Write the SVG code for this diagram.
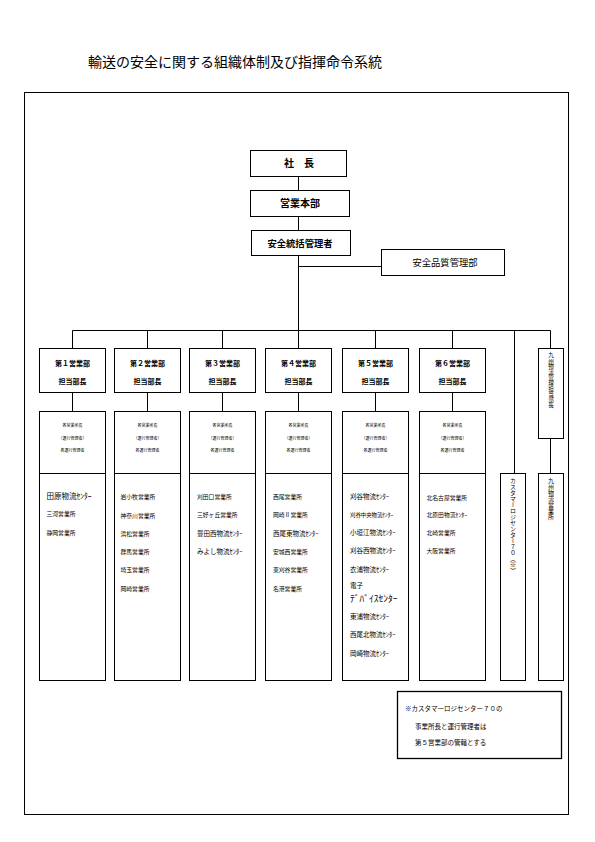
<svg xmlns="http://www.w3.org/2000/svg" width="595" height="842" viewBox="0 0 595 842">
<style>
text{font-family:"Noto Sans CJK JP","Noto Sans CJK SC",sans-serif;fill:#000}
.b{fill:#fff;stroke:#000;stroke-width:1}
.c line{stroke:#000;stroke-width:1}
.t{font-size:10px;font-weight:bold;text-anchor:middle}
.h{font-size:7px;font-weight:bold;text-anchor:middle}
.i{font-size:4px;text-anchor:middle}
.l{font-size:5.8px}
.v{font-size:6px;writing-mode:vertical-rl}
.n{font-size:6.5px}
</style>
<rect width="595" height="842" fill="#fff"/>
<text x="88" y="67" style="font-size:14px">輸送の安全に関する組織体制及び指揮命令系統</text>
<rect x="24.5" y="92.5" width="544" height="722" fill="none" stroke="#000"/>

<g class="c" id="connectors">
<line x1="298.5" y1="176" x2="298.5" y2="190"/>
<line x1="298.5" y1="216" x2="298.5" y2="230"/>
<line x1="298.5" y1="255" x2="298.5" y2="330.5"/>
<line x1="298.5" y1="266.5" x2="381.5" y2="266.5"/>
<line x1="72.5" y1="330.5" x2="550.5" y2="330.5"/>
<line x1="72.5" y1="330.5" x2="72.5" y2="348.5"/>
<line x1="147.5" y1="330.5" x2="147.5" y2="348.5"/>
<line x1="222.5" y1="330.5" x2="222.5" y2="348.5"/>
<line x1="298.5" y1="330.5" x2="298.5" y2="348.5"/>
<line x1="375.5" y1="330.5" x2="375.5" y2="348.5"/>
<line x1="452.5" y1="330.5" x2="452.5" y2="348.5"/>
<line x1="550.5" y1="330.5" x2="550.5" y2="348.5"/>
<line x1="514.5" y1="330.5" x2="514.5" y2="473.5"/>
<line x1="72.5" y1="392.5" x2="72.5" y2="411.5"/>
<line x1="147.5" y1="392.5" x2="147.5" y2="411.5"/>
<line x1="222.5" y1="392.5" x2="222.5" y2="411.5"/>
<line x1="298.5" y1="392.5" x2="298.5" y2="411.5"/>
<line x1="375.5" y1="392.5" x2="375.5" y2="411.5"/>
<line x1="452.5" y1="392.5" x2="452.5" y2="411.5"/>
<line x1="550.5" y1="438.5" x2="550.5" y2="473.5"/>
</g>

<g id="president"><rect class="b" x="250.5" y="150.5" width="96" height="26"/><text class="t" x="299" y="167">社　長</text></g>
<g id="sales-hq"><rect class="b" x="250.5" y="190.5" width="99" height="26"/><text class="t" x="300" y="207">営業本部</text></g>
<g id="safety-manager"><rect class="b" x="251.5" y="230.5" width="99" height="25"/><text class="t" x="300" y="246.5" style="font-size:9.3px">安全統括管理者</text></g>
<g id="quality-dept"><rect class="b" x="381.5" y="249.5" width="123" height="26"/><text class="t" x="445" y="266" style="font-size:9.3px;font-weight:normal">安全品質管理部</text></g>

<g id="dept1">
<rect class="b" x="39.5" y="348.5" width="66" height="44"/>
<text class="h" x="72.5" y="366">第１営業部</text><text class="h" x="72.5" y="384">担当部長</text>
<rect class="b" x="39.5" y="411.5" width="66" height="62"/>
<text class="i" x="72.5" y="427">各営業所長</text><text class="i" x="72.5" y="440">（運行管理者）</text><text class="i" x="72.5" y="452">各運行管理者</text>
<rect class="b" x="39.5" y="473.5" width="66" height="207"/>
<text class="l" x="46.5" y="499" style="font-size:7.5px">田原物流ｾﾝﾀｰ</text>
<text class="l" x="46.5" y="516">三河営業所</text>
<text class="l" x="46.5" y="535">静岡営業所</text>
</g>

<g id="dept2">
<rect class="b" x="114.5" y="348.5" width="66" height="44"/>
<text class="h" x="147.5" y="366">第２営業部</text><text class="h" x="147.5" y="384">担当部長</text>
<rect class="b" x="114.5" y="411.5" width="66" height="62"/>
<text class="i" x="147.5" y="427">各営業所長</text><text class="i" x="147.5" y="440">（運行管理者）</text><text class="i" x="147.5" y="452">各運行管理者</text>
<rect class="b" x="114.5" y="473.5" width="66" height="207"/>
<text class="l" x="120.5" y="499">岩小牧営業所</text>
<text class="l" x="120.5" y="517.5">神奈川営業所</text>
<text class="l" x="120.5" y="535.5">浜松営業所</text>
<text class="l" x="120.5" y="554">群馬営業所</text>
<text class="l" x="120.5" y="572">埼玉営業所</text>
<text class="l" x="120.5" y="590.5">岡崎営業所</text>
</g>

<g id="dept3">
<rect class="b" x="189.5" y="348.5" width="66" height="44"/>
<text class="h" x="222.5" y="366">第３営業部</text><text class="h" x="222.5" y="384">担当部長</text>
<rect class="b" x="189.5" y="411.5" width="66" height="62"/>
<text class="i" x="222.5" y="427">各営業所長</text><text class="i" x="222.5" y="440">（運行管理者）</text><text class="i" x="222.5" y="452">各運行管理者</text>
<rect class="b" x="189.5" y="473.5" width="66" height="207"/>
<text class="l" x="197" y="499">刈田口営業所</text>
<text class="l" x="197" y="517">三好ヶ丘営業所</text>
<text class="l" x="197" y="535.5" style="font-size:6.5px">豊田西物流ｾﾝﾀｰ</text>
<text class="l" x="197" y="553.5" style="font-size:6.5px">みよし物流ｾﾝﾀｰ</text>
</g>

<g id="dept4">
<rect class="b" x="265.5" y="348.5" width="66" height="44"/>
<text class="h" x="298.5" y="366">第４営業部</text><text class="h" x="298.5" y="384">担当部長</text>
<rect class="b" x="265.5" y="411.5" width="66" height="62"/>
<text class="i" x="298.5" y="427">各営業所長</text><text class="i" x="298.5" y="440">（運行管理者）</text><text class="i" x="298.5" y="452">各運行管理者</text>
<rect class="b" x="265.5" y="473.5" width="66" height="207"/>
<text class="l" x="273" y="499">西尾営業所</text>
<text class="l" x="273" y="517">岡崎Ⅱ営業所</text>
<text class="l" x="273" y="535.5" style="font-size:6.5px">西尾東物流ｾﾝﾀｰ</text>
<text class="l" x="273" y="553.5">安城西営業所</text>
<text class="l" x="273" y="572">東刈谷営業所</text>
<text class="l" x="273" y="590.5">名港営業所</text>
</g>

<g id="dept5">
<rect class="b" x="342.5" y="348.5" width="66" height="44"/>
<text class="h" x="375.5" y="366">第５営業部</text><text class="h" x="375.5" y="384">担当部長</text>
<rect class="b" x="342.5" y="411.5" width="66" height="62"/>
<text class="i" x="375.5" y="427">各営業所長</text><text class="i" x="375.5" y="440">（運行管理者）</text><text class="i" x="375.5" y="452">各運行管理者</text>
<rect class="b" x="342.5" y="473.5" width="66" height="207"/>
<text class="l" x="350" y="498.5" style="font-size:6.5px">刈谷物流ｾﾝﾀｰ</text>
<text class="l" x="350" y="516.5" style="font-size:5.4px">刈谷中央物流ｾﾝﾀｰ</text>
<text class="l" x="350" y="535" style="font-size:6.5px">小垣江物流ｾﾝﾀｰ</text>
<text class="l" x="350" y="553" style="font-size:6.5px">刈谷西物流ｾﾝﾀｰ</text>
<text class="l" x="350" y="571.5" style="font-size:6.5px">衣浦物流ｾﾝﾀｰ</text>
<text class="l" x="350" y="588" style="font-size:6.5px">電子</text>
<text class="l" x="350" y="602" style="font-size:9.5px">ﾃﾞﾊﾞｲｽｾﾝﾀｰ</text>
<text class="l" x="350" y="619" style="font-size:6.5px">東浦物流ｾﾝﾀｰ</text>
<text class="l" x="350" y="637" style="font-size:6.5px">西尾北物流ｾﾝﾀｰ</text>
<text class="l" x="350" y="655.5" style="font-size:6.5px">岡崎物流ｾﾝﾀｰ</text>
</g>

<g id="dept6">
<rect class="b" x="419.5" y="348.5" width="66" height="44"/>
<text class="h" x="452.5" y="366">第６営業部</text><text class="h" x="452.5" y="384">担当部長</text>
<rect class="b" x="419.5" y="411.5" width="66" height="62"/>
<text class="i" x="452.5" y="427">各営業所長</text><text class="i" x="452.5" y="440">（運行管理者）</text><text class="i" x="452.5" y="452">各運行管理者</text>
<rect class="b" x="419.5" y="473.5" width="66" height="207"/>
<text class="l" x="426.5" y="499.5">北名古屋営業所</text>
<text class="l" x="426.5" y="517">北原田物流ｾﾝﾀｰ</text>
<text class="l" x="426.5" y="535">北崎営業所</text>
<text class="l" x="426.5" y="552.5">大阪営業所</text>
</g>

<g id="customer-logi">
<rect class="b" x="500.5" y="473.5" width="25" height="207"/>
<text class="v" x="513" y="478">カスタマーロジセンター７０（※）</text>
</g>

<g id="kyushu-manager">
<rect class="b" x="538.5" y="348.5" width="25" height="90"/>
<text class="v" x="551" y="352" style="font-size:5.6px">九州物流管理担当部長</text>
</g>

<g id="kyushu-office">
<rect class="b" x="538.5" y="473.5" width="25" height="207"/>
<text class="v" x="551" y="478">九州物流営業所</text>
</g>

<g id="note">
<rect class="b" x="397.5" y="691.5" width="164" height="67" style="stroke-width:1.3"/>
<text class="n" x="405" y="710.5">※カスタマーロジセンター７０の</text>
<text class="n" x="415" y="729">事業所長と運行管理者は</text>
<text class="n" x="415" y="745">第５営業部の管轄とする</text>
</g>
</svg>
